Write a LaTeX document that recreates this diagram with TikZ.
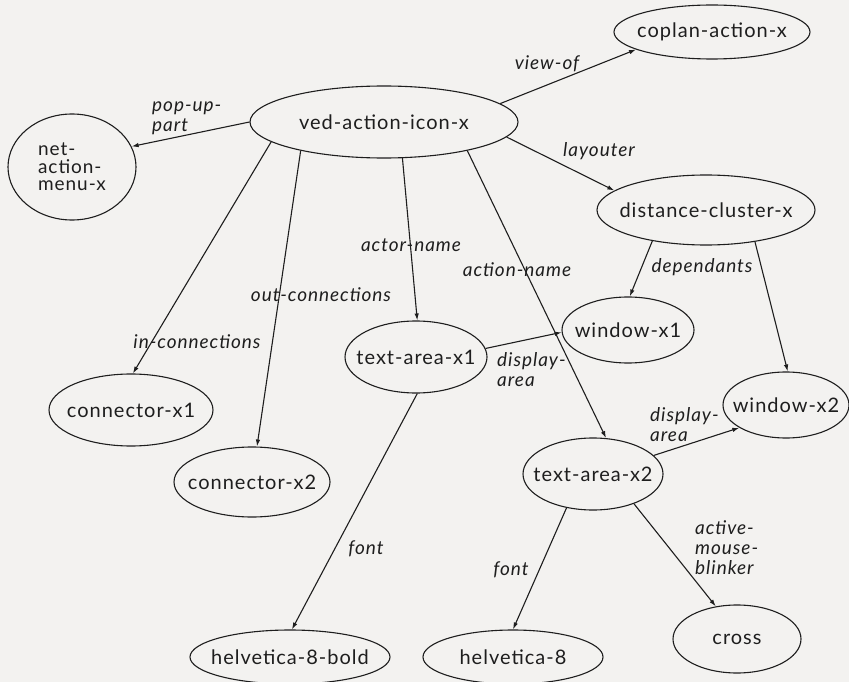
\documentclass[tikz,border=0pt]{standalone}
\usepackage{fontspec}
\setmainfont{Lato}
\newfontfamily\ndfont[LetterSpace=5]{Lato}
\usetikzlibrary{shapes.geometric,arrows.meta}
\definecolor{paper}{RGB}{243,242,240}
\definecolor{ink}{RGB}{30,30,30}
\newcommand{\nt}[1]{\makebox[0pt][c]{#1}}
\begin{document}
\begin{tikzpicture}[x=1pt,y=-1pt,
  nd/.style={draw=ink, ellipse, line width=1.1pt, inner sep=0pt, font=\ndfont\fontsize{20}{18}\selectfont, text=ink},
  lbl/.style={font=\ndfont\fontsize{19}{20}\selectfont\itshape, text=ink, inner sep=0pt},
  edge/.style={draw=ink, line width=1.1pt, -{Latex[length=7pt,width=4.5pt]}}]
\fill[paper] (0,0) rectangle (849,682);
\useasboundingbox (0,0) rectangle (849,682);

% nodes
\node[nd, minimum width=196pt, minimum height=54pt] (coplan) at (712,32) {\nt{coplan-action-x}};
\node[nd, minimum width=268pt, minimum height=72pt] (ved) at (384,122) {\nt{ved-action-icon-x}};
\node[nd, minimum width=128pt, minimum height=106pt, align=left, font=\ndfont\fontsize{19}{17.5}\selectfont] (net) at (72,167) {net-\\action-\\menu-x};
\node[nd, minimum width=218pt, minimum height=70pt] (dist) at (706,210) {\nt{distance-cluster-x}};
\node[nd, minimum width=132pt, minimum height=66pt] (w1) at (628,330) {\nt{window-x1}};
\node[nd, minimum width=126pt, minimum height=66pt] (w2) at (786,405) {\nt{window-x2}};
\node[nd, minimum width=142pt, minimum height=72pt] (ta1) at (416,357) {\nt{text-area-x1}};
\node[nd, minimum width=164pt, minimum height=72pt] (c1) at (131,410) {\nt{connector-x1}};
\node[nd, minimum width=156pt, minimum height=70pt] (c2) at (252,482) {\nt{connector-x2}};
\node[nd, minimum width=140pt, minimum height=72pt] (ta2) at (593,474) {\nt{text-area-x2}};
\node[nd, minimum width=200pt, minimum height=54pt] (hb) at (290,657) {\nt{helvetica-8-bold}};
\node[nd, minimum width=180pt, minimum height=54pt] (h8) at (513,657) {\nt{helvetica-8}};
\node[nd, minimum width=128pt, minimum height=68pt] (cross) at (737,639) {\nt{cross}};

% connectors
\draw[edge] (ved.9) -- (coplan.193);
\draw[edge] (ved.180) -- (net.19);
\draw[edge] (ved.353) -- (dist.168);
\draw[edge] (ved.190) -- (c1.87);
\draw[edge] (ved.199) -- (c2.82);
\draw[edge] (ved.297) -- (ta1.88);
\draw[edge] (ved.341) -- (ta2.70);
\draw[edge] (dist.210) -- (w1.87);
\draw[edge] (dist.327) -- (w2.87);
\draw[edge] (ta1.7) -- (w1.182);
\draw[edge] (ta2.17) -- (w2.206);
\draw[edge] (ta1.272) -- (hb.86);
\draw[edge] (ta2.232) -- (h8.90);
\draw[edge] (ta2.324) -- (cross.123);

% labels
\node[lbl] (l-viewof) at (547,64) {view-of};
\node[lbl, anchor=west, align=left] (l-popup) at (152,118) {pop-up-\\part};
\node[lbl] (l-layouter) at (599,151) {layouter};
\node[lbl] (l-in) at (197,342) {in-connections};
\node[lbl] (l-out) at (321,295) {out-connections};
\node[lbl] (l-actor) at (411,245) {actor-name};
\node[lbl] (l-action) at (517,270) {action-name};
\node[lbl] (l-dep) at (702,267) {dependants};
\node[lbl, anchor=west, align=left] (l-disp1) at (497,370) {display-\\area};
\node[lbl, anchor=west, align=left] (l-disp2) at (650,425) {display-\\area};
\node[lbl] (l-font1) at (366,549) {font};
\node[lbl] (l-font2) at (511,570) {font};
\node[lbl, anchor=west, align=left] (l-amb) at (695,548) {active-\\mouse-\\blinker};
\end{tikzpicture}
\end{document}
